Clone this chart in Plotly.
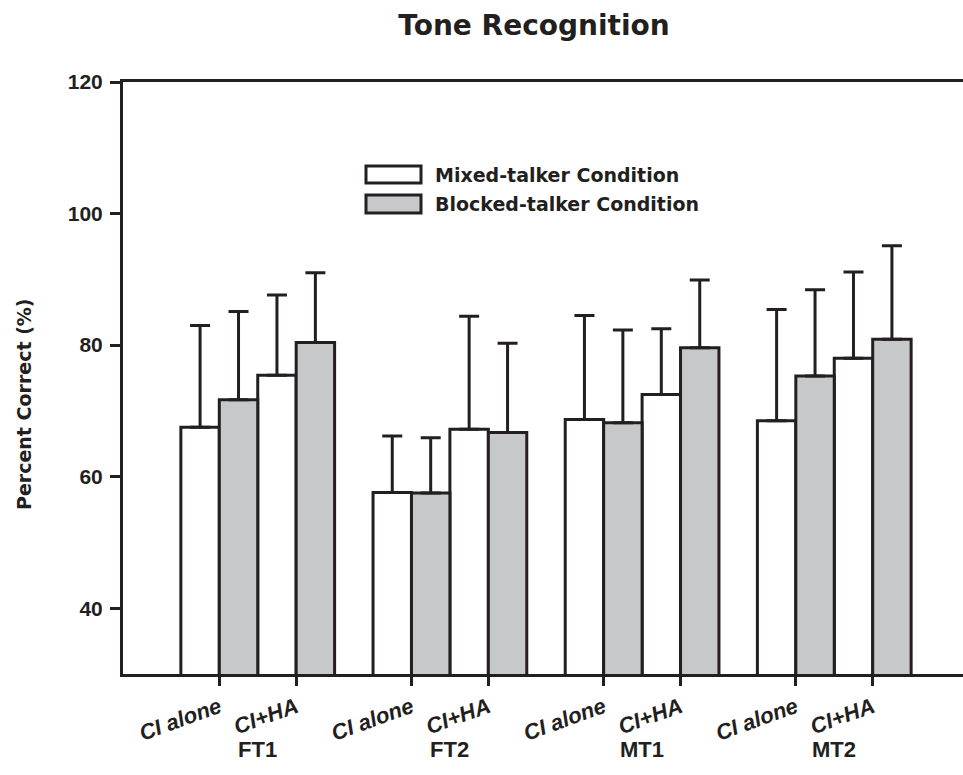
import plotly.graph_objects as go

# ---------------- data ----------------
groups = ["FT1", "FT2", "MT1", "MT2"]
conditions = ["CI alone", "CI+HA"]
series_names = ["Mixed-talker Condition", "Blocked-talker Condition"]

mixed_mean = [67.5, 75.4, 57.6, 67.2, 68.7, 72.5, 68.5, 78.0]
mixed_sd = [15.5, 12.2, 8.6, 17.2, 15.8, 10.0, 16.9, 13.1]
blocked_mean = [71.7, 80.4, 57.5, 66.7, 68.2, 79.6, 75.3, 80.9]
blocked_sd = [13.4, 10.6, 8.4, 13.6, 14.1, 10.3, 13.1, 14.2]

y_ticks = [40, 60, 80, 100, 120]

# ---------------- layout helpers ----------------
INK = "#231f20"
GRAY = "#c7c8ca"
GROUP_STEP = 2.5   # distance between groups in axis units
BAR_W = 0.5

positions = []
tick_text = []
group_centers = []
for gi, g in enumerate(groups):
    base = 1 + gi * GROUP_STEP
    for ci, c in enumerate(conditions):
        positions.append(base + ci)
        tick_text.append(c)
    group_centers.append(base + 0.5)

W, H = 963, 775
PLOT_L, PLOT_T, PLOT_B, PLOT_R = 123, 82, 674, 963
ML, MT, MR, MB = PLOT_L, PLOT_T, W - PLOT_R, H - PLOT_B
PW, PH = PLOT_R - PLOT_L, PLOT_B - PLOT_T


def px_x(px):
    return (px - PLOT_L) / PW


def px_y(py):
    return (PLOT_B - py) / PH


fig = go.Figure()

err_style = dict(type="data", symmetric=False, color=INK, thickness=3, width=10)

fig.add_trace(go.Bar(
    name=series_names[0], x=positions, y=mixed_mean, width=BAR_W, offset=-BAR_W,
    marker=dict(color="white", line=dict(color=INK, width=3)),
    error_y=dict(array=mixed_sd, arrayminus=[0] * len(mixed_sd), **err_style),
    showlegend=False,
))
fig.add_trace(go.Bar(
    name=series_names[1], x=positions, y=blocked_mean, width=BAR_W, offset=0,
    marker=dict(color=GRAY, line=dict(color=INK, width=3)),
    error_y=dict(array=blocked_sd, arrayminus=[0] * len(blocked_sd), **err_style),
    showlegend=False,
))

UNIT_PX = 76.87
x_lo = 1 - (219.3 - PLOT_L) / UNIT_PX
x_hi = positions[-1] + (PLOT_R - 872.7) / UNIT_PX

fig.update_layout(
    template="none",
    width=W, height=H, autosize=False,
    margin=dict(l=ML, r=MR, t=MT, b=MB, pad=0, autoexpand=False),
    plot_bgcolor="white", paper_bgcolor="white",
    barmode="overlay",
    showlegend=False,
    title=dict(
        text="Tone Recognition", x=px_x(534), xref="paper", xanchor="center",
        y=1 - 25 / H, yref="container", yanchor="middle",
        automargin=False,
        font=dict(family="DejaVu Sans", size=28, color=INK, weight="bold"),
    ),
    xaxis=dict(
        range=[x_lo, x_hi], tickvals=positions, ticktext=tick_text,
        tickangle=-20, ticks="outside", ticklen=9, tickwidth=3, tickcolor=INK,
        showline=True, linecolor=INK, linewidth=3, mirror=True,
        showgrid=False, zeroline=False, automargin=False,
        tickfont=dict(family="Liberation Sans", size=22, color=INK,
                      weight="bold", style="italic"),
    ),
    yaxis=dict(
        range=[30, 120], tickvals=y_ticks, ticks="outside", ticklen=10,
        tickwidth=3, tickcolor=INK, showline=True, linecolor=INK, linewidth=3,
        mirror=False, showgrid=False, zeroline=False, automargin=False,
        tickfont=dict(family="Liberation Sans", size=21, color=INK, weight="bold"),
        ticklabelstandoff=3,
    ),
)

# y-axis title
fig.add_annotation(
    text="Percent Correct (%)", textangle=-90, xref="paper", yref="paper",
    x=px_x(24), y=px_y(404), xanchor="center", yanchor="middle", showarrow=False,
    font=dict(family="DejaVu Sans", size=19, color=INK, weight="bold"),
)

# group labels under the axis
for gc, g in zip(group_centers, groups):
    fig.add_annotation(
        text=g, x=gc, xref="x", y=px_y(749), yref="paper",
        xanchor="center", yanchor="middle", showarrow=False,
        font=dict(family="Liberation Sans", size=22, color=INK, weight="bold"),
    )

# legend drawn as boxes + text
legend_rows = [(166, 183, "white"), (195, 213, GRAY)]
for (top, bot, fill), name in zip(legend_rows, series_names):
    fig.add_shape(
        type="rect", xref="paper", yref="paper",
        x0=px_x(366), x1=px_x(421), y0=px_y(bot), y1=px_y(top),
        fillcolor=fill, line=dict(color=INK, width=3),
    )
    fig.add_annotation(
        text=name, xref="paper", yref="paper", x=px_x(433),
        y=px_y((top + bot) / 2), xanchor="left", yanchor="middle",
        showarrow=False,
        font=dict(family="DejaVu Sans", size=19, color=INK, weight="bold"),
    )

# remove the browser's default page margin so the figure fills the window
page_css = (
    "document.body.style.margin='0';"
    "document.body.style.overflow='hidden';"
    "document.documentElement.style.overflow='hidden';"
)

fig.write_html("out.html", post_script=page_css,
               config={"displayModeBar": False})
